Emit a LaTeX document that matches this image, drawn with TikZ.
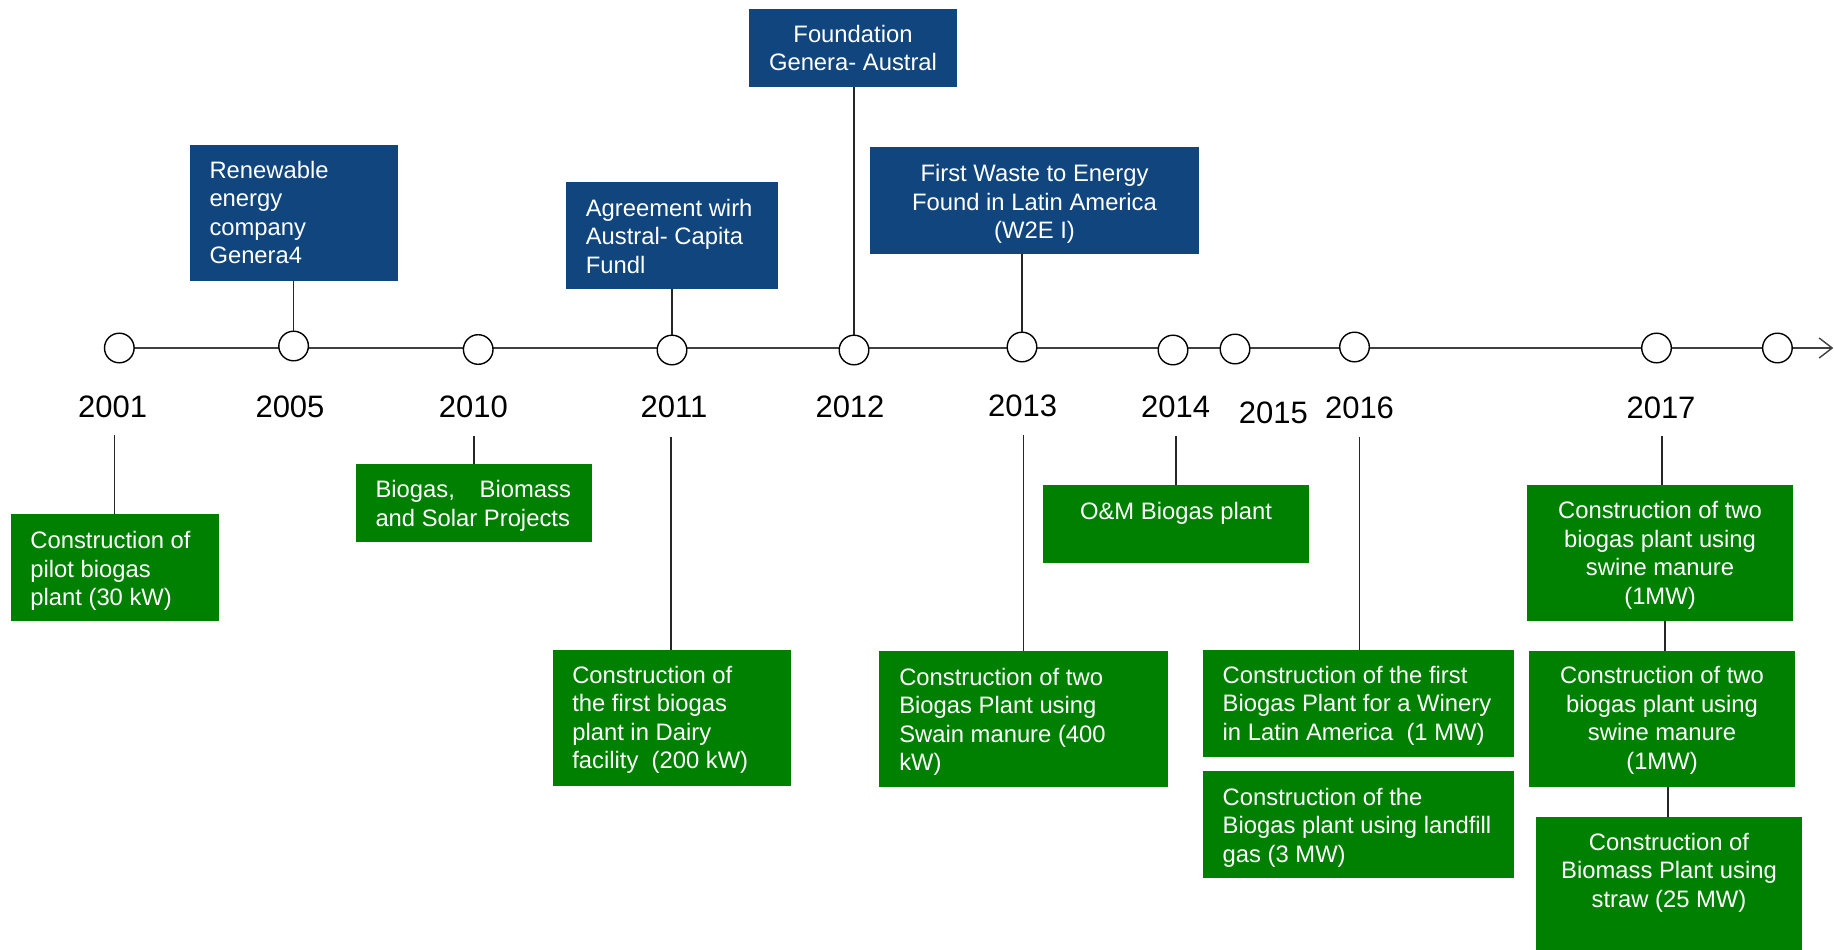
\documentclass[tikz,border=0pt]{standalone}
\usepackage{fontspec}
\setmainfont{Liberation Sans}
\usetikzlibrary{arrows.meta,backgrounds}

\definecolor{evblue}{RGB}{16,69,126}
\definecolor{evgreen}{RGB}{0,128,0}
\definecolor{axisgray}{RGB}{64,64,64}

% box contents: width, height, first baseline from top, left pad, text
\newcommand\lefttext[5]{%
  \parbox[c][#2pt][t]{#1pt}{\fontsize{23.8}{28.5}\selectfont\raggedright
    \leftskip=#4pt\relax\rule{0pt}{#3pt}#5}}
% centred contents: width, height, first baseline from top, text
\newcommand\midtext[4]{%
  \parbox[c][#2pt][t]{#1pt}{\fontsize{23.8}{28.5}\selectfont\centering
    \rule{0pt}{#3pt}#4}}

\tikzset{
  evbox/.style={inner sep=0pt, outer sep=0pt, anchor=north west, text=white},
  bluebox/.style={evbox, fill=evblue},
  greenbox/.style={evbox, fill=evgreen},
  yearlabel/.style={inner sep=0pt, anchor=base, font=\fontsize{31}{36}\selectfont},
  dot/.style={circle, draw=black, fill=white, line width=1.4pt, minimum size=29.6pt, inner sep=0pt},
  link/.style={draw=black!85, line width=1.2pt},
  axis/.style={draw=axisgray, line width=1.6pt},
}

\begin{document}
\begin{tikzpicture}[x=1pt,y=-1pt]
\useasboundingbox (0,0) rectangle (1834,950);

% ---- timeline dots ----
\node[dot] (c2001) at (119.3,348) {};
\node[dot] (c2005) at (293.6,346) {};
\node[dot] (c2010) at (478.2,349.5) {};
\node[dot] (c2011) at (672,350) {};
\node[dot] (c2012) at (854,350) {};
\node[dot] (c2013) at (1022,347) {};
\node[dot] (c2014) at (1173,350) {};
\node[dot] (c2015) at (1235,349) {};
\node[dot] (c2016) at (1354.5,347) {};
\node[dot] (c2017) at (1656.5,348) {};
\node[dot] (cnext) at (1777.4,348) {};
\coordinate (tip) at (1833.3,348);

\begin{scope}[on background layer]
  \draw[axis, -{Straight Barb[length=13pt,width=20pt,line width=1.4pt]}]
    (c2001.center) -- (tip);
\end{scope}

% ---- year labels ----
\node[yearlabel] (y2001) at (112.7,417) {2001};
\node[yearlabel] (y2005) at (290,417) {2005};
\node[yearlabel] (y2010) at (473.3,417.5) {2010};
\node[yearlabel] (y2011) at (674,417.5) {2011};
\node[yearlabel] (y2012) at (850,417.7) {2012};
\node[yearlabel] (y2013) at (1022.6,416) {2013};
\node[yearlabel] (y2014) at (1175.7,417.5) {2014};
\node[yearlabel] (y2015) at (1273.4,423) {2015};
\node[yearlabel] (y2016) at (1359.5,418) {2016};
\node[yearlabel] (y2017) at (1661,418.3) {2017};

% ---- company milestones (above the line) ----
\node[bluebox] (b1) at (190,145)
  {\lefttext{208}{136}{33.3}{19.5}{Renewable\\energy\\company\\Genera4}};
\node[bluebox] (b2) at (566,182)
  {\lefttext{212}{106.7}{34}{19.8}{Agreement wirh\\Austral- Capita\\Fundl}};
\node[bluebox] (b3) at (749,9)
  {\midtext{208}{77.7}{33.3}{Foundation\\Genera- Austral}};
\node[bluebox] (b4) at (870,147)
  {\midtext{329}{106.7}{34.7}{First Waste to Energy\\Found in Latin America\\(W2E I)}};

\draw[link] (c2005.north) -- (c2005.north |- b1.south);
\draw[link] (c2011.north) -- (c2011.north |- b2.south);
\draw[link] (c2012.north) -- (c2012.north |- b3.south);
\draw[link] (c2013.north) -- (c2013.north |- b4.south);

% ---- projects (below the line) ----
\node[greenbox] (g1) at (11,514)
  {\lefttext{208}{106.8}{34.5}{19.4}{Construction of\\pilot biogas\\plant (30 kW)}};
\node[greenbox] (g2) at (355.7,464)
  {\lefttext{236}{77.7}{33.8}{19.8}{\hbox to 195.5pt{Biogas,\hfill Biomass}\\and Solar Projects}};
\node[greenbox] (g3) at (553.3,650)
  {\lefttext{237.4}{135.7}{33.3}{19}{Construction of\\the first biogas\\plant in Dairy\\facility~ (200 kW)}};
\node[greenbox] (g4) at (879,651)
  {\lefttext{288.7}{135.7}{34}{20.3}{Construction of two\\Biogas Plant using\\Swain manure (400\\kW)}};
\node[greenbox] (g5) at (1043,485)
  {\midtext{266}{77.7}{34}{O\&M Biogas plant}};
\node[greenbox] (g6) at (1203,650)
  {\lefttext{311}{106.7}{33.3}{19.7}{Construction of the first\\Biogas Plant for a Winery\\in Latin America~ (1 MW)}};
\node[greenbox] (g7) at (1203,771)
  {\lefttext{311}{106.7}{34}{19.7}{Construction of the\\Biogas plant using landfill\\gas (3 MW)}};
\node[greenbox] (g8) at (1527,485)
  {\midtext{266}{135.8}{33.7}{Construction of two\\biogas plant using\\swine manure\\(1MW)}};
\node[greenbox] (g9) at (1529,651.2)
  {\midtext{266}{135.6}{32.5}{Construction of two\\biogas plant using\\swine manure\\(1MW)}};
\node[greenbox] (g10) at (1536,817.2)
  {\midtext{266}{136}{32.8}{Construction of\\Biomass Plant using\\straw (25 MW)}};

% drop lines from the year labels
\coordinate (d2001) at (114.6,435);
\coordinate (d2010) at (474,436);
\coordinate (d2011) at (671,436.5);
\coordinate (d2013) at (1023.3,435);
\coordinate (d2014) at (1176,436);
\coordinate (d2016) at (1359.3,436.5);
\coordinate (d2017) at (1662,436);

\draw[link] (d2001) -- (d2001 |- g1.north);
\draw[link] (d2010) -- (d2010 |- g2.north);
\draw[link] (d2011) -- (d2011 |- g3.north);
\draw[link] (d2013) -- (d2013 |- g4.north);
\draw[link] (d2014) -- (d2014 |- g5.north);
\draw[link] (d2016) -- (d2016 |- g6.north);
\draw[link] (d2017) -- (d2017 |- g8.north);
\draw[link] ([xshift=5pt]g8.south) -- ([xshift=3pt]g9.north);
\draw[link] ([xshift=6pt]g9.south) -- ([xshift=-1pt]g10.north);
\end{tikzpicture}
\end{document}
